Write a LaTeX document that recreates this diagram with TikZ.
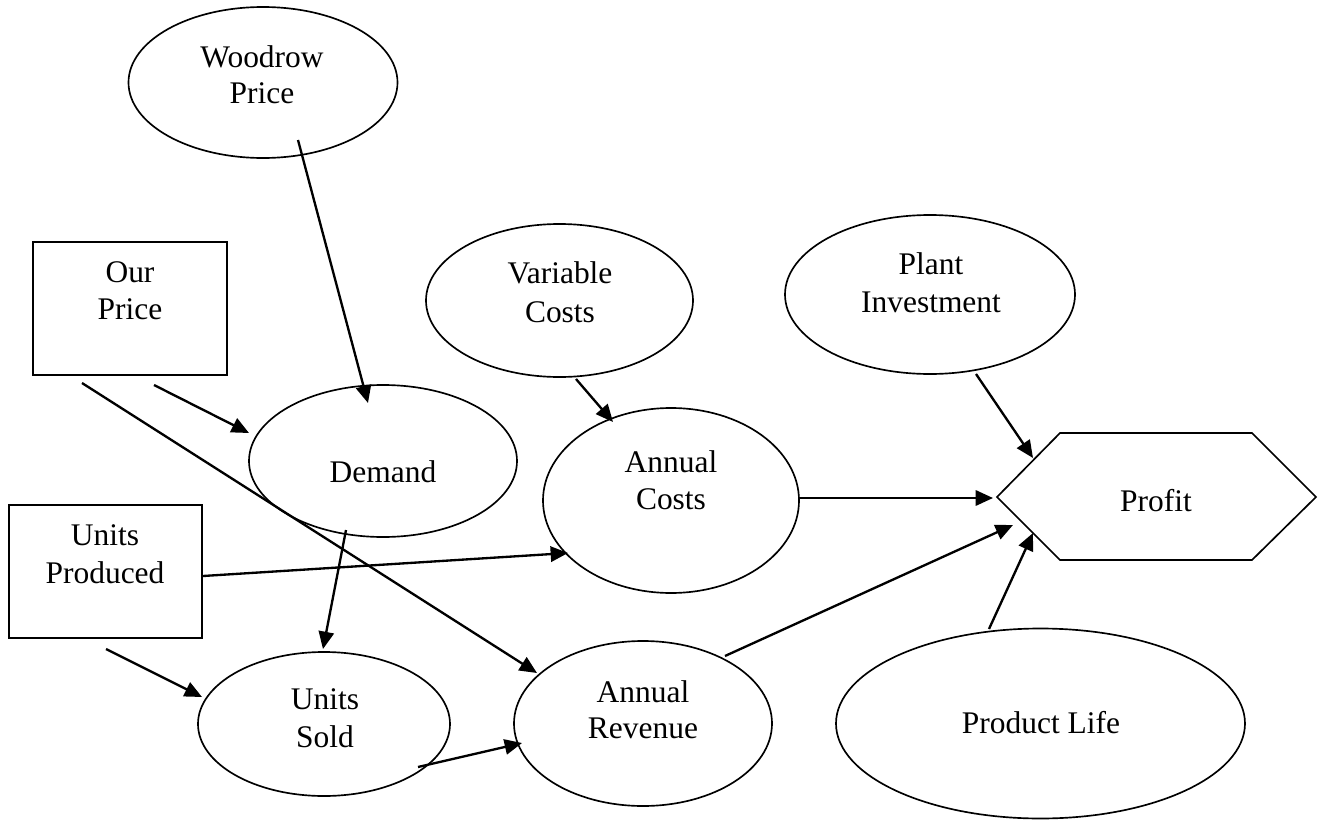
\documentclass[tikz,border=0pt]{standalone}
\usepackage{fontspec}
\setmainfont{Liberation Serif}
\usetikzlibrary{shapes.geometric,arrows.meta}
\begin{document}
\begin{tikzpicture}[x=0.75pt,y=-0.75pt,
  shp/.style={draw=black,line width=1.25pt},
  el/.style 2 args={shp,ellipse,minimum width=#1*0.75pt,minimum height=#2*0.75pt,inner sep=0pt},
  bx/.style 2 args={shp,rectangle,minimum width=#1*0.75pt,minimum height=#2*0.75pt,inner sep=0pt},
  lbl/.style={anchor=base,inner sep=0pt,font=\fontsize{23.6pt}{27.75pt}\selectfont},
  arr/.style={line width=1.75pt,-{Triangle[length=13pt,width=11.5pt]}}]
\useasboundingbox (0,0) rectangle (1322,821);
\fill[white] (0,0) rectangle (1322,821);
% shapes
\node[el={269}{151}] (wp) at (263,82.5) {};
\node[el={267}{153}] (vc) at (559.5,300.5) {};
\node[el={290}{159}] (pi) at (930,294.5) {};
\node[el={268}{152}] (dem) at (383,461) {};
\node[el={256}{185}] (ac) at (671,500.5) {};
\node[el={252}{144}] (us) at (324,724) {};
\node[el={258}{165}] (ar) at (643,723.5) {};
\node[el={409}{190}] (pl) at (1040.5,723.5) {};
\node[bx={194}{133}] (op) at (130,308.5) {};
\node[bx={193}{133}] (up) at (105.5,571.5) {};
\coordinate (pfL) at (997,497);
\coordinate (pfTL) at (1060,433);
\coordinate (pfTR) at (1252,433);
\coordinate (pfR) at (1316,497);
\coordinate (pfBR) at (1252,560);
\coordinate (pfBL) at (1060,560);
\draw[shp,line join=miter] (pfL) -- (pfTL) -- (pfTR) -- (pfR) -- (pfBR) -- (pfBL) -- cycle;
% labels
\node[lbl] (wpt1) at (262,67) {Woodrow};
\node[lbl] (wpt2) at (262,103) {Price};
\node[lbl] (opt1) at (130,282) {Our};
\node[lbl] (opt2) at (130,319) {Price};
\node[lbl] (vct1) at (560,283) {Variable};
\node[lbl] (vct2) at (560,322) {Costs};
\node[lbl] (pit1) at (931,274) {Plant};
\node[lbl] (pit2) at (931,312) {Investment};
\node[lbl] (demt) at (383,482) {Demand};
\node[lbl] (act1) at (671,472) {Annual};
\node[lbl] (act2) at (671,509) {Costs};
\node[lbl] (pft) at (1156,511) {Profit};
\node[lbl] (upt1) at (105,545) {Units};
\node[lbl] (upt2) at (105,583) {Produced};
\node[lbl] (ust1) at (325,709) {Units};
\node[lbl] (ust2) at (325,747) {Sold};
\node[lbl] (art1) at (643,702) {Annual};
\node[lbl] (art2) at (643,738) {Revenue};
\node[lbl] (plt) at (1041,733) {Product Life};
% connector end points
\coordinate (wpS) at (298,140);   \coordinate (demN) at (368,403);
\coordinate (opS1) at (154,385);  \coordinate (demW) at (249,433);
\coordinate (opS2) at (82,383);   \coordinate (arNW) at (537,673);
\coordinate (vcS) at (576,379);   \coordinate (acN) at (613,422);
\coordinate (piS) at (976,374);   \coordinate (pfA) at (1033,458);
\coordinate (acE) at (799,498);   \coordinate (pfB) at (993,498);
\coordinate (upE) at (203,576);   \coordinate (acW) at (568,553);
\coordinate (demS) at (346,530);  \coordinate (usN) at (323,649);
\coordinate (upS) at (106,649);   \coordinate (usW) at (202,697);
\coordinate (usE) at (418,767);   \coordinate (arW) at (522,743);
\coordinate (arNE) at (725,656);  \coordinate (pfC) at (1013,525);
\coordinate (plN) at (989,629);   \coordinate (pfD) at (1033,533);
% connectors
\draw[arr] (wpS) -- (demN);
\draw[arr] (opS1) -- (demW);
\draw[arr] (opS2) -- (arNW);
\draw[arr] (vcS) -- (acN);
\draw[arr] (piS) -- (pfA);
\draw[arr] (acE) -- (pfB);
\draw[arr] (upE) -- (acW);
\draw[arr] (demS) -- (usN);
\draw[arr] (upS) -- (usW);
\draw[arr] (usE) -- (arW);
\draw[arr] (arNE) -- (pfC);
\draw[arr] (plN) -- (pfD);
\end{tikzpicture}
\end{document}
